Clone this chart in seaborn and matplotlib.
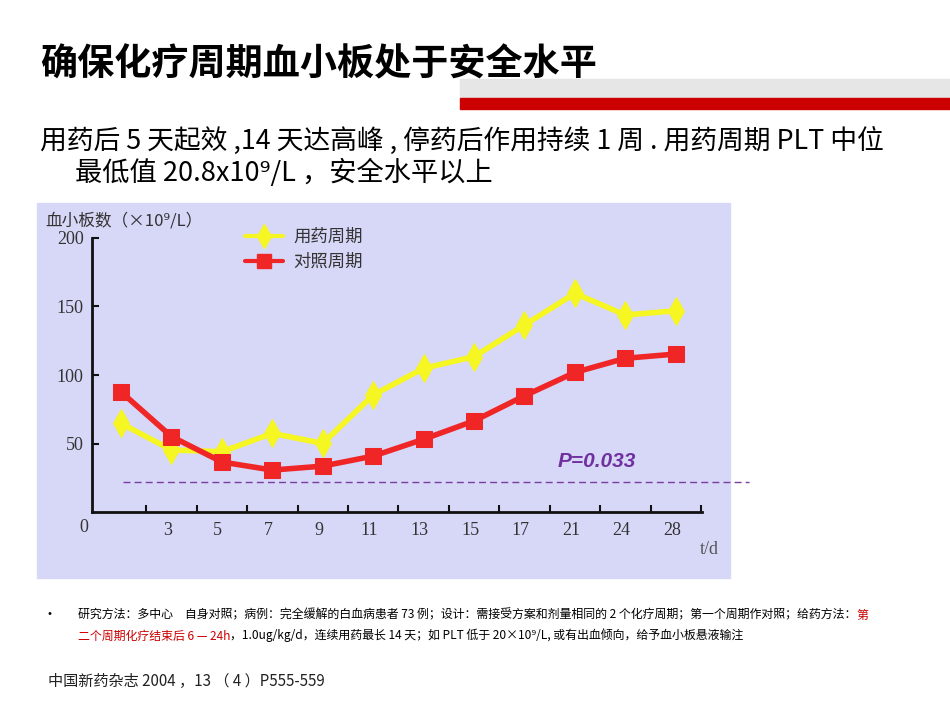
import numpy as np
import pandas as pd
import matplotlib
matplotlib.use("Agg")
import matplotlib.pyplot as plt
import seaborn as sns
from matplotlib.patches import Rectangle
from matplotlib.lines import Line2D

# chart values
day_labels = ['', '3', '5', '7', '9', '11', '13', '15', '17', '21', '24', '28']
drug_cycle = [64.7, 45.3, 44.0, 57.4, 50.1, 85.4, 104.9, 113.4, 136.5, 159.6, 143.8, 146.9]
ctrl_cycle = [87.7, 55.1, 36.5, 30.6, 33.5, 40.8, 53.1, 66.5, 84.8, 101.9, 112.2, 115.3]
series_names = ['用药周期', '对照周期']
y_ticks = [50, 100, 150, 200]
safe_level = 21.8
p_text = 'P=0.033'

sns.set_theme(style='white')
plt.rcParams['font.family'] = ['Noto Sans CJK SC', 'DejaVu Sans']

W, H = 950, 713
fig = plt.figure(figsize=(W / 100, H / 100), dpi=100)
fig.patch.set_facecolor('white')


def fx(px):
    return px / W


def fy(py):
    return 1 - py / H


# header decoration
fig.patches.append(Rectangle((fx(460), fy(98)), fx(950) - fx(460), (98 - 79) / H,
                             transform=fig.transFigure, color='#e6e6e6', zorder=-2))
fig.patches.append(Rectangle((fx(460), fy(109)), fx(950) - fx(460), (109 - 98) / H,
                             transform=fig.transFigure, color='#cc0000', zorder=-2))
# chart panel background
fig.patches.append(Rectangle((fx(37), fy(578)), fx(730) - fx(37), (578 - 203) / H,
                             transform=fig.transFigure, color='#d7d7f8', zorder=-2))

fig.text(fx(40), fy(65), '确保化疗周期血小板处于安全水平', fontsize=26.7, fontweight='bold',
         va='center', ha='left', color='black')
fig.text(fx(40), fy(141), '用药后 5 天起效 ,14 天达高峰 , 停药后作用持续 1 周 . 用药周期 PLT 中位',
         fontsize=19.3, va='center', ha='left', color='black')
fig.text(fx(75), fy(173), '最低值 20.8x10⁹/L ，安全水平以上',
         fontsize=19.6, va='center', ha='left', color='black')

# axes
ax = fig.add_axes([fx(92), fy(512), fx(702) - fx(92), (512 - 238) / H])
ax.set_facecolor('none')
ax.set_zorder(1)

pos = np.arange(1, len(day_labels) + 1)
df = pd.DataFrame({
    'pos': np.concatenate([pos, pos]),
    'plt': drug_cycle + ctrl_cycle,
    'cycle': [series_names[0]] * len(pos) + [series_names[1]] * len(pos),
})
colors = {series_names[0]: '#f6f622', series_names[1]: '#f02626'}
markers = {series_names[0]: 'd', series_names[1]: 's'}
sizes = {series_names[0]: 14, series_names[1]: 12}

for name in series_names:
    sub = df[df['cycle'] == name]
    sns.lineplot(data=sub, x='pos', y='plt', ax=ax, color=colors[name], linewidth=4,
                 marker=markers[name], markersize=sizes[name], markeredgecolor=colors[name],
                 legend=False, clip_on=False)

# dashed reference line, running past the panel on the right as in the source
ax.hlines(safe_level, 1.03, 13.46, color='#7a3ea0', linewidth=1, linestyle=(0, (5, 3)),
          clip_on=False, zorder=1)

ax.set_xlim(0.425, 12.52)
ax.set_ylim(0, 200)
ax.set_xlabel('')
ax.set_ylabel('')

for s in ['top', 'right']:
    ax.spines[s].set_visible(False)
for s in ['left', 'bottom']:
    ax.spines[s].set_color('#111111')
    ax.spines[s].set_linewidth(2)

ax.set_xticks(pos[1:] - 0.08)
ax.set_xticklabels(day_labels[1:])
ax.set_xticks(pos + 0.5, minor=True)
ax.tick_params(axis='x', which='major', length=0, pad=7)
ax.tick_params(axis='x', which='minor', direction='in', length=5, width=1.5, color='#111111',
               bottom=True)
ax.set_yticks(y_ticks)
ax.tick_params(axis='y', which='major', direction='in', length=5, width=1.5, color='#111111',
               left=True, pad=6)
for lab in ax.get_xticklabels() + ax.get_yticklabels():
    lab.set_family('Liberation Serif')
    lab.set_fontsize(13)
    lab.set_color('#333333')
ax.text(-0.013, -0.055, '0', transform=ax.transAxes, ha='center', va='center',
        family='Liberation Serif', fontsize=13, color='#333333')

ax.text(9.66, 37, p_text, color='#7030a0', fontsize=15, fontweight='bold', fontstyle='italic',
        family='Liberation Sans', ha='left', va='center')

handles = [Line2D([], [], color=colors[n], linewidth=3, marker=markers[n],
                  markersize=sizes[n] - 2, markeredgecolor=colors[n]) for n in series_names]
leg = ax.legend(handles, series_names, loc='upper left', bbox_to_anchor=(fx(245), fy(228)),
                bbox_transform=fig.transFigure, frameon=False, fontsize=12.5,
                handlelength=2.2, handletextpad=0.6, labelspacing=0.4,
                borderpad=0, borderaxespad=0)
for t in leg.get_texts():
    t.set_color('#333333')

fig.text(fx(45), fy(221), '血小板数（×10⁹/L）', fontsize=12, va='center', ha='left',
         color='#333333')
fig.text(fx(700), fy(550), 't/d', fontsize=13, va='center', ha='left', color='#555555',
         family='Liberation Serif')

# footnote
fig.text(fx(42), fy(615), '•', fontsize=10, va='center', ha='left', color='black')
t1 = fig.text(fx(78), fy(615),
              '研究方法：多中心　自身对照；病例：完全缓解的白血病患者 73 例；设计：需接受方案和剂量相同的 2 个化疗周期；第一个周期作对照；给药方法：',
              fontsize=8.6, va='center', ha='left', color='black')
ax.annotate('第', xy=(1, 0), xycoords=t1, va='bottom', ha='left', fontsize=8.6,
            color='#cc0000', annotation_clip=False)
t2 = fig.text(fx(78), fy(636), '二个周期化疗结束后 6 — 24h', fontsize=8.6, va='center',
              ha='left', color='#cc0000')
ax.annotate('，1.0ug/kg/d，连续用药最长 14 天；如 PLT 低于 20×10⁹/L, 或有出血倾向，给予血小板悬液输注',
            xy=(1, 0), xycoords=t2, va='bottom', ha='left', fontsize=8.6, color='black',
            annotation_clip=False)

fig.text(fx(48), fy(681), '中国新药杂志 2004 ，13 （ 4 ）P555-559', fontsize=10.9,
         fontstyle='italic', va='center', ha='left', color='#222222')

fig.savefig('out.png', dpi=100)
